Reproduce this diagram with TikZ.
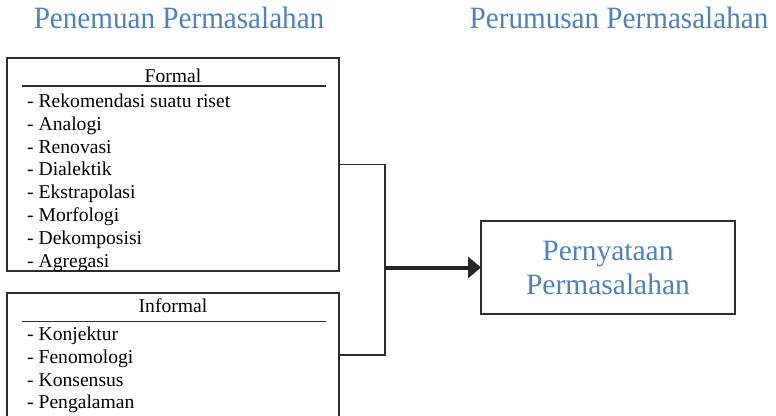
\documentclass[tikz,border=0pt]{standalone}
\usepackage{fontspec}
\setmainfont{Liberation Serif}
\usepackage{xcolor}
\usepackage{graphicx}
\usetikzlibrary{positioning,arrows.meta}

\definecolor{headblue}{RGB}{79,129,189}
\definecolor{linegray}{RGB}{45,45,45}

\begin{document}
\begin{tikzpicture}[x=1pt, y=-1pt, >=latex,
  box/.style={draw=linegray, line width=1.3pt, minimum width=332pt, inner sep=0pt, outer sep=0pt},
  title/.style={font=\fontsize{19.6}{22.8}\selectfont, inner sep=0pt},
  items/.style={font=\fontsize{19.6}{22.8}\selectfont, align=left, inner sep=0pt},
  heading/.style={text=headblue, font=\fontsize{31}{34}\selectfont, inner sep=0pt}]
  \clip (0,0) rectangle (776,415);
  \fill[white] (0,0) rectangle (776,415);
  % headings
  \node[heading, anchor=base] (findhead) at (179,28) {\scalebox{0.94}[1]{Penemuan Permasalahan}};
  \node[heading, anchor=base] (formhead) at (619,28) {\scalebox{0.94}[1]{Perumusan Permasalahan}};
  % left boxes
  \node[box, minimum height=213pt] (formal) at (173,164.5) {};
  \node[box, minimum height=124pt, below=22pt of formal] (informal) {};
  \node[title, anchor=base] (formaltitle) at (173,82) {Formal};
  \draw[linegray, line width=1.3pt] (22,86) -- (326,86);
  \node[items, anchor=north west] (formallist) at (27,93.6) {- Rekomendasi suatu riset\\- Analogi\\- Renovasi\\- Dialektik\\- Ekstrapolasi\\- Morfologi\\- Dekomposisi\\- Agregasi};
  \node[title, anchor=base] (informaltitle) at (173,312) {Informal};
  \draw[linegray, line width=1.3pt] (22,321.5) -- (326,321.5);
  \node[items, anchor=north west] (informallist) at (27,326.6) {- Konjektur\\- Fenomologi\\- Konsensus\\- Pengalaman};
  % right box
  \node[box, minimum width=254pt, minimum height=93pt, text=headblue, align=center,
        font=\fontsize{29.5}{34}\selectfont] (stmt) at (608,267.5) {Pernyataan\\Permasalahan};
  % connectors
  \coordinate (join) at (385,267.5);
  \draw[linegray, line width=1.5pt] (formal.east) -- ++(46,0) |- (informal.east);
  \draw[-{Triangle[length=13pt,width=21pt]}, line width=4pt, black!85] (join) -- (stmt.west);
\end{tikzpicture}
\end{document}
